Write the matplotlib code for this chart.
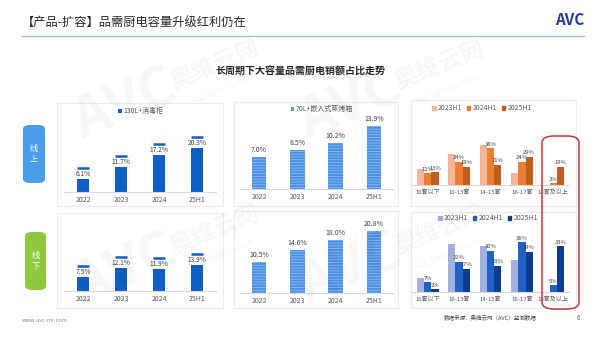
import numpy as np
import matplotlib
matplotlib.use('Agg')
import matplotlib.pyplot as plt
from matplotlib.patches import Rectangle, FancyBboxPatch, Patch

plt.rcParams['font.family'] = ['Noto Sans CJK SC', 'DejaVu Sans']
plt.rcParams['hatch.linewidth'] = 0.6

# ---- data ----
years = ['2022', '2023', '2024', '25H1']
online_130l = [6.1, 11.7, 17.2, 20.3]
offline_130l = [7.5, 12.1, 11.9, 13.9]
online_70l = [7.0, 8.5, 10.2, 13.9]
offline_70l = [10.5, 14.6, 18.0, 20.8]

sets = ['10套以下', '10-13套', '14-15套', '16-17套', '18套及以上']
periods = ['2023H1', '2024H1', '2025H1']
online_sets = {
    '2023H1': [16, 32, 41, 12, 0],
    '2024H1': [12, 24, 38, 24, 2],
    '2025H1': [13, 19, 21, 29, 19],
}
offline_sets = {
    '2023H1': [10, 35, 33, 23, 0],
    '2024H1': [7, 22, 30, 36, 5],
    '2025H1': [2, 17, 19, 29, 33],
}

W, H = 600, 337
fig = plt.figure(figsize=(6, 3.37), dpi=100)


def rect(x0, y0, x1, y1):
    return [x0 / W, 1 - y1 / H, (x1 - x0) / W, (y1 - y0) / H]


def fx(x):
    return x / W


def fy(y):
    return 1 - y / H


def style_ax(ax, labels, fs=5):
    ax.set_facecolor('none')
    for s in ['top', 'right', 'left']:
        ax.spines[s].set_visible(False)
    ax.spines['bottom'].set_color('#d9d9d9')
    ax.spines['bottom'].set_linewidth(0.8)
    ax.set_yticks([])
    ax.set_xticks(np.arange(len(labels)))
    ax.set_xticklabels(labels, fontsize=fs, color='#595959')
    ax.tick_params(axis='x', length=0, pad=3)
    ax.set_xlim(-0.5, len(labels) - 0.5)


# ---- header ----
fig.text(fx(22), fy(22), '【产品-扩容】品需厨电容量升级红利仍在', fontsize=8.8,
         color='#262626', va='center', ha='left')
fig.add_artist(plt.Line2D([fx(22), fx(584)], [fy(36), fy(36)], color='#9dc3e6', lw=1))
fig.text(fx(584), fy(20), 'AVC', fontsize=11, fontweight='bold', style='italic',
         color='#1d3f99', ha='right', va='center')
fig.text(fx(300), fy(72), '长周期下大容量品需厨电销额占比走势', fontsize=7.2,
         fontweight='bold', color='#262626', ha='center', va='center')

# ---- panel frames ----
for (x0, y0, x1, y1) in [(57, 103, 223, 206), (57, 213, 223, 308),
                         (234, 102, 398, 206), (234, 211, 398, 308),
                         (411, 100, 576, 206), (411, 212, 576, 308)]:
    fig.add_artist(Rectangle((fx(x0), fy(y1)), (x1 - x0) / W, (y1 - y0) / H,
                             transform=fig.transFigure, facecolor='white',
                             edgecolor='#ececec', lw=0.8, zorder=-1))

# side labels
for (x0, y0, x1, y1, c, t) in [(23, 125, 45, 183, '#4a9ee8', '线\n上'),
                               (25, 232, 46, 290, '#8fc93f', '线\n下')]:
    fig.add_artist(FancyBboxPatch((fx(x0), fy(y1)), (x1 - x0) / W, (y1 - y0) / H,
                                  boxstyle='round,pad=0,rounding_size=0.012',
                                  transform=fig.transFigure, facecolor=c,
                                  edgecolor='none', zorder=1))
    fig.text(fx((x0 + x1) / 2), fy((y0 + y1) / 2), t, color='white', fontsize=6,
             ha='center', va='center', linespacing=1.4)

# ---- left panels: 130L+ disinfection cabinet ----
blue = '#0f5fc4'


def left_panel(box, vals, scale, legend):
    ax = fig.add_axes(rect(*box))
    hpx = box[3] - box[1]
    ymax = hpx / scale
    ax.set_ylim(0, ymax)
    x = np.arange(len(years))
    v = np.array(vals)
    ax.bar(x, v, width=0.32, color=blue, label='130L+消毒柜')
    pad = 11 / scale
    ax.hlines(v + pad, x - 0.16, x + 0.16, color=blue, lw=1.8)
    for xi, vi in zip(x, v):
        ax.text(xi, vi + 1 / scale, f'{vi:.1f}%', ha='center', va='bottom',
                fontsize=4.8, color='#404040')
    style_ax(ax, years)
    if legend:
        ax.legend(loc='center', bbox_to_anchor=(fx(141), fy(111)),
                  bbox_transform=fig.transFigure, frameon=False, fontsize=5,
                  handlelength=0.5, handleheight=0.5, handletextpad=0.3,
                  labelcolor='#595959')
    return ax


left_panel((64, 120, 216, 192), online_130l, 2.17, True)
left_panel((64, 235, 216, 291), offline_130l, 1.87, False)

# ---- middle panels: 70L+ built-in steam oven ----


def mid_panel(box, vals, scale, legend):
    ax = fig.add_axes(rect(*box))
    hpx = box[3] - box[1]
    ymax = hpx / scale
    ax.set_ylim(0, ymax)
    x = np.arange(len(years))
    ax.bar(x, vals, width=0.38, color='#4a8fe2', edgecolor='#8dbcf1', lw=0,
           hatch='------', label='70L+嵌入式蒸烤箱')
    for xi, vi in zip(x, vals):
        ax.text(xi, vi + 3 / scale, f'{vi:.1f}%', ha='center', va='bottom',
                fontsize=5, color='#404040')
    style_ax(ax, years)
    if legend:
        ax.legend(loc='center', bbox_to_anchor=(fx(322), fy(109)),
                  bbox_transform=fig.transFigure, frameon=False, fontsize=5,
                  handlelength=0.5, handleheight=0.5, handletextpad=0.3,
                  labelcolor='#595959')
    return ax


mid_panel((240, 120, 393, 189), online_70l, 4.55, True)
mid_panel((240, 225, 393, 293), offline_70l, 2.97, False)

# ---- right panels: by set count ----


def right_panel(box, data, colors, scale, leg_xy):
    ax = fig.add_axes(rect(*box))
    hpx = box[3] - box[1]
    ymax = hpx / scale
    ax.set_ylim(0, ymax)
    x = np.arange(len(sets))
    w = 0.23
    for i, p in enumerate(periods):
        vals = data[p]
        ax.bar(x + (i - 1) * w, vals, width=w, color=colors[i], label=p)
        if i > 0:
            for xi, vi in zip(x, vals):
                ax.text(xi + (i - 1) * w, vi + 1.5 / scale, f'{vi}%', ha='center',
                        va='bottom', fontsize=4.2, color='#404040')
    style_ax(ax, sets, fs=4.3)
    handles = [Patch(color=c, label=p) for c, p in zip(colors, periods)]
    ax.legend(handles=handles, loc='center', ncol=3,
              bbox_to_anchor=(fx(leg_xy[0]), fy(leg_xy[1])),
              bbox_transform=fig.transFigure, frameon=False, fontsize=5,
              handlelength=0.5, handleheight=0.5, handletextpad=0.3,
              columnspacing=0.7, labelcolor='#595959')
    return ax


right_panel((412, 120, 569, 185), online_sets,
            ['#f4b69a', '#ed7d31', '#c0601e'], 0.973, (482, 108))
right_panel((412, 232, 569, 292), offline_sets,
            ['#a3b1de', '#1e62c8', '#0b3c8f'], 1.38, (488, 218))

# highlight box
fig.add_artist(FancyBboxPatch((fx(542), fy(309)), 37 / W, 173 / H,
                              boxstyle='round,pad=0,rounding_size=0.02',
                              transform=fig.transFigure, facecolor='none',
                              edgecolor='#c0393b', lw=1.1, zorder=10))

# ---- watermark ----
for dx, dy in [(0, 0), (225, 0), (0, 165), (225, 165)]:
    fig.text(fx(125 + dx), fy(105 + dy), 'AVC', fontsize=40, fontweight='bold',
             style='italic', color='#000000', alpha=0.035, rotation=22,
             ha='center', va='center', zorder=20)
    fig.text(fx(215 + dx), fy(65 + dy), '奥维云网', fontsize=17, fontweight='bold',
             color='#000000', alpha=0.035, rotation=22, ha='center', va='center',
             zorder=20)
    fig.text(fx(222 + dx), fy(90 + dy), 'ALL VIEW CLOUD', fontsize=6,
             fontweight='bold', color='#000000', alpha=0.035, rotation=22,
             ha='center', va='center', zorder=20)

# ---- footer ----
fig.text(fx(22), fy(320), 'www.avc-mr.com', fontsize=4, color='#8c8c8c',
         ha='left', va='center')
fig.text(fx(490), fy(318), '数据来源：奥维云网（AVC）监测数据', fontsize=4,
         color='#404040', ha='center', va='center')
fig.text(fx(578), fy(318), '6', fontsize=4.5, color='#595959', ha='center', va='center')

fig.savefig('out.png', dpi=100)
